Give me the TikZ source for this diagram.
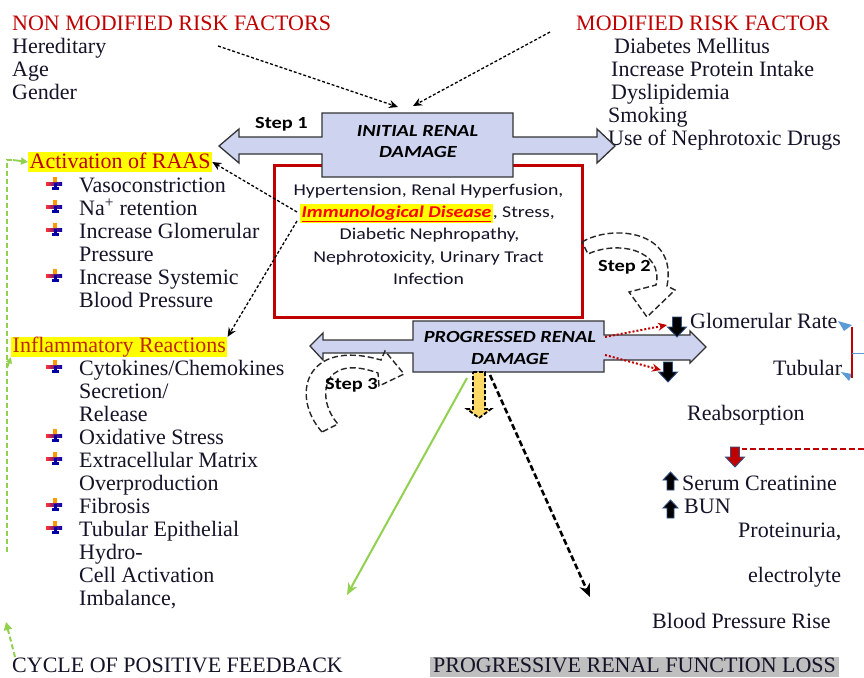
\documentclass[tikz,border=0pt]{standalone}
\usepackage{fontspec}
\setmainfont{Liberation Serif}
\newfontfamily\boxfont[FakeStretch=1.2]{Carlito}
\usetikzlibrary{arrows.meta}
\definecolor{hdr}{RGB}{192,0,0}
\definecolor{txt}{RGB}{20,20,40}
\definecolor{boxfill}{RGB}{206,212,240}
\definecolor{gbar}{RGB}{146,208,80}
\definecolor{darkred}{RGB}{192,0,0}
\definecolor{arrblue}{RGB}{91,155,213}
\definecolor{hlgray}{RGB}{191,191,191}
\definecolor{yel}{RGB}{255,255,0}
\definecolor{gold}{RGB}{255,217,102}
\definecolor{iconblue}{RGB}{50,80,130}
\newcommand{\dnicon}[3]{%
  \filldraw[fill=#3, draw=iconblue, line width=0.9pt]
    (#1-4.5,#2) -- (#1+4.5,#2) -- (#1+4.5,#2+10) -- (#1+9.5,#2+10) -- (#1,#2+20)
    -- (#1-9.5,#2+10) -- (#1-4.5,#2+10) -- cycle;}
\newcommand{\upicon}[3]{%
  \filldraw[fill=#3, draw=iconblue, line width=0.9pt]
    (#1-3.5,#2) -- (#1+3.5,#2) -- (#1+3.5,#2-10) -- (#1+7.5,#2-10) -- (#1,#2-18)
    -- (#1-7.5,#2-10) -- (#1-3.5,#2-10) -- cycle;}
\tikzset{
  tt/.style={font=\fontsize{22}{23}\selectfont, text=txt, inner sep=0pt, anchor=base west},
  hd/.style={tt, text=hdr},
  bxt/.style={font=\boxfont\fontsize{16.5}{22}\selectfont, text=txt, inner sep=0pt, anchor=base},
  bxtitle/.style={font=\boxfont\bfseries\itshape\fontsize{17}{20}\selectfont, text=black, inner sep=0pt, anchor=base},
  steplbl/.style={font=\boxfont\bfseries\fontsize{17}{20}\selectfont, text=black, inner sep=0pt, anchor=base west},
  dasharr/.style={draw=black, line width=1.3pt, dash pattern=on 3pt off 2pt, -{Stealth[length=9pt,width=8pt]}},
  thickdash/.style={draw=black, line width=2.6pt, dash pattern=on 6pt off 3pt, -{Stealth[length=13pt,width=11pt]}},
  reddot/.style={draw=darkred, line width=2pt, dash pattern=on 2pt off 2pt, -{Stealth[length=9pt,width=8pt]}},
  greendash/.style={draw=gbar, line width=2pt, dash pattern=on 5pt off 3pt},
  bigarrow/.style={fill=boxfill, draw=black!80, line width=1.3pt},
  curvearrow/.style={draw=black!85, line width=1.4pt, dash pattern=on 6pt off 3pt},
  bulletmark/.pic={
    \fill[orange!80!yellow] (-1.6,-7) rectangle (1.6,-1);
    \shade[left color=red!80!white, right color=blue!70!black] (-9,-1.8) rectangle (7,1.8);
    \fill[blue!65!black] (-1.5,-1) rectangle (1.5,5);
    \fill[blue!65!black] (-3.5,3) rectangle (3.5,5.5);
  }
}
\begin{document}
\begin{tikzpicture}[x=1pt,y=-1pt]
\useasboundingbox (0,0) rectangle (864,677);
\fill[white] (0,0) rectangle (864,677);

% ---------- risk factors ----------
\node[hd] (nmhead) at (12,31) {NON MODIFIED RISK FACTORS};
\node[tt] (hered) at (12,53) {Hereditary};
\node[tt] (age) at (12,76) {Age};
\node[tt] (gender) at (12,99) {Gender};

\node[hd] (mhead) at (576,31) {MODIFIED RISK FACTOR};
\node[tt] (diab) at (614,53) {Diabetes Mellitus};
\node[tt] (prot) at (611,76) {Increase Protein Intake};
\node[tt] (dysl) at (611,99) {Dyslipidemia};
\node[tt] (smok) at (608,122) {Smoking};
\node[tt] (nephd) at (608,145) {Use of Nephrotoxic Drugs};

% ---------- red box ----------
\node[draw=darkred, line width=3pt, minimum width=308pt, minimum height=152pt, inner sep=0pt] (redbox) at (428,241) {};

% ---------- initial renal damage ----------
\filldraw[bigarrow] (322,113) -- (513,113) -- (513,137) -- (597,137) -- (597,129) -- (615,146)
  -- (597,163) -- (597,154) -- (513,154) -- (513,177) -- (322,177) -- (322,154) -- (239,154)
  -- (239,163) -- (219,146) -- (239,129) -- (239,137) -- (322,137) -- cycle;
\node[bxtitle] (init1) at (417.5,136) {INITIAL RENAL};
\node[bxtitle] (init2) at (418,157) {DAMAGE};
\node[steplbl] (step1) at (255,128) {Step 1};
\coordinate (initA) at (398,107);
\coordinate (initB) at (413,106);
\coordinate (nmfrom) at (218,46);
\coordinate (mfrom) at (550,32);
\draw[dasharr] (nmfrom) -- (initA);
\draw[dasharr] (mfrom) -- (initB);

% ---------- box text ----------
\setlength{\fboxsep}{1.5pt}
\node[bxt] (l1) at (428.5,195) {Hypertension, Renal Hyperfusion,};
\node[bxt] (l2) at (427.5,217) {\colorbox{yel}{\textcolor{red}{\bfseries\itshape\underline{Immunological Disease}}}, Stress,};
\node[bxt] (l3) at (429.5,239) {Diabetic Nephropathy,};
\node[bxt] (l4) at (428.5,262) {Nephrotoxicity, Urinary Tract};
\node[bxt] (l5) at (428.5,284) {Infection};

% ---------- left lists ----------
\node[tt, text=hdr, fill=yel, inner xsep=1.5pt, text height=16pt, text depth=4pt] (raas) at (28,168) {Activation of RAAS};
\foreach \yy in {192,215,238,284} { \pic at (55,\yy-8) {bulletmark}; }
\node[tt] (r1) at (79,192) {Vasoconstriction};
\node[tt] (r2) at (79,215) {Na\textsuperscript{+} retention};
\node[tt] (r3) at (79,238) {Increase Glomerular};
\node[tt] (r4) at (79,261) {Pressure};
\node[tt] (r5) at (79,284) {Increase Systemic};
\node[tt] (r6) at (79,307) {Blood Pressure};

\node[tt, text={rgb,255:red,190;green,40;blue,0}, fill=yel, inner xsep=1.5pt, text height=15pt, text depth=5pt] (infl) at (11,352) {Inflammatory Reactions};
\foreach \yy in {375,444,467,513,536} { \pic at (55,\yy-8) {bulletmark}; }
\node[tt] (i1) at (79,375) {Cytokines/Chemokines};
\node[tt] (i2) at (79,398) {Secretion/};
\node[tt] (i3) at (79,421) {Release};
\node[tt] (i4) at (79,444) {Oxidative Stress};
\node[tt] (i5) at (79,467) {Extracellular Matrix};
\node[tt] (i6) at (79,490) {Overproduction};
\node[tt] (i7) at (79,513) {Fibrosis};
\node[tt] (i8) at (79,536) {Tubular Epithelial};
\node[tt] (i9) at (79,559) {Hydro-};
\node[tt] (i10) at (79,582) {Cell Activation};
\node[tt] (i11) at (79,605) {Imbalance,};

\coordinate (immA) at (297,212);
\coordinate (immB) at (297,221);
\draw[dasharr] (immA) -- (raas.east);
\draw[dasharr] (immB) -- (infl.north east);

% ---------- feedback (green) ----------
\coordinate (gtop) at (7,160);
\coordinate (gbot) at (7,552);
\draw[greendash] (gbot) -- (gtop) -- (13,160);
\draw[draw=gbar, line width=1.8pt, -{Triangle[length=7pt,width=7pt]}] (13,160) -- (raas.west);
\draw[draw=gbar, line width=1.8pt, -{Triangle[length=6pt,width=6pt]}] (7,368) -- (infl.south west);
\coordinate (cycA) at (15,657);
\coordinate (cycB) at (6,622);
\draw[greendash, -{Triangle[length=8pt,width=8pt]}] (cycA) -- (cycB);
\node[tt] (cycle) at (12,672) {CYCLE OF POSITIVE FEEDBACK};

% ---------- progressed renal damage ----------
\filldraw[bigarrow] (413,321) -- (604,321) -- (604,335) -- (690,335) -- (690,331) -- (706,347)
  -- (690,363) -- (690,360) -- (604,360) -- (604,372) -- (413,372) -- (413,353) -- (323,353)
  -- (323,360) -- (310,346) -- (323,333) -- (323,340) -- (413,340) -- cycle;
\node[bxtitle] (prog1) at (510,342) {PROGRESSED RENAL};
\node[bxtitle] (prog2) at (510,364) {DAMAGE};

% Step 2 curved arrow
\draw[curvearrow] (582,242) .. controls (612,224) and (678,230) .. (667,286) -- (675,290)
  -- (647,317) -- (629,292) -- (656,285) .. controls (664,250) and (618,240) .. (588,254) -- cycle;
\node[steplbl] (step2) at (598,271) {Step 2};

% Step 3 curved arrow
\draw[curvearrow] (322,432) .. controls (290,396) and (305,338) .. (381,360) -- (385,351)
  -- (404,374) -- (379,386) -- (378,373) .. controls (320,352) and (316,400) .. (338,424) -- cycle;
\node[steplbl] (step3) at (325,389) {Step 3};

% down arrows from progressed box
\filldraw[fill=gold, draw=black, line width=1.8pt, dash pattern=on 4pt off 2pt]
  (473,372) -- (485,372) -- (485,409) -- (491,409) -- (479,418) -- (467,409) -- (473,409) -- cycle;
\coordinate (gstart) at (467,378);
\coordinate (gend) at (347,595);
\draw[draw=gbar, line width=2pt, -{Stealth[length=12pt,width=10pt]}] (gstart) -- (gend);
\coordinate (bstart) at (490,375);
\coordinate (bend) at (590,597);
\draw[thickdash] (bstart) -- (bend);

% ---------- right side ----------
\coordinate (rd1s) at (605,337);
\coordinate (rd1e) at (667,325);
\coordinate (rd2s) at (605,355);
\coordinate (rd2e) at (661,370);
\draw[reddot] (rd1s) -- (rd1e);
\draw[reddot] (rd2s) -- (rd2e);
\dnicon{677}{317}{black}
\dnicon{668}{362}{black}
\node[tt] (glom) at (690,328) {Glomerular Rate};
\node[tt] (tub) at (773,375) {Tubular};
\fill[arrblue] (838,321) -- (852,325) -- (844,331) -- cycle;
\fill[arrblue] (841,372) -- (852,374) -- (849,381) -- cycle;
\draw[darkred, line width=2.2pt] (852,327) -- (852,378);
\draw[arrblue, line width=0.8pt] (852,353) -- (864,353);
\node[tt] (reab) at (687,420) {Reabsorption};
\coordinate (rdash) at (864,449);
\coordinate (rdashend) at (742,449);
\draw[darkred, line width=2pt, dash pattern=on 6pt off 3pt] (rdash) -- (rdashend);
\dnicon{735}{447}{darkred}
\upicon{670.5}{490}{black}
\upicon{670.5}{518}{black}
\node[tt] (serum) at (682,490) {Serum Creatinine};
\node[tt] (bun) at (684,513) {BUN};
\node[tt] (protu) at (738,537) {Proteinuria,};
\node[tt] (elec) at (748,582) {electrolyte};
\node[tt] (bprise) at (652,628) {Blood Pressure Rise};

\node[tt, fill=hlgray, inner xsep=3pt, text height=15pt, text depth=5pt] (prl) at (430,672) {PROGRESSIVE RENAL FUNCTION LOSS};
\end{tikzpicture}
\end{document}
